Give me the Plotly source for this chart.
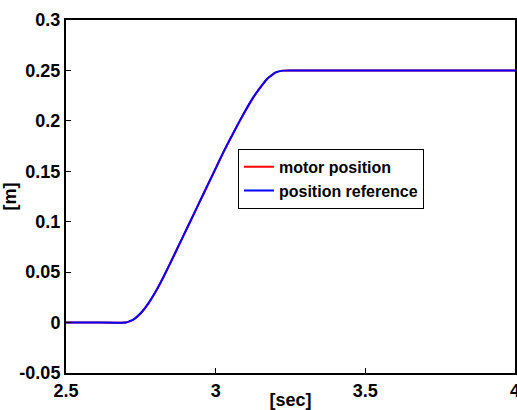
import plotly.graph_objects as go

t = [2.5, 2.6, 2.7, 2.725, 2.75, 2.775, 2.8, 2.825, 2.85, 2.875, 2.9, 2.925, 2.95, 2.975,
     3.0, 3.025, 3.05, 3.075, 3.1, 3.125, 3.15, 3.175, 3.2, 3.225, 3.25, 3.5, 4.0]
pos_ref = [0, 0, 0, 0.003, 0.0095, 0.019, 0.031, 0.045, 0.060, 0.0755, 0.091, 0.1065, 0.122, 0.1375,
           0.153, 0.1685, 0.183, 0.197, 0.2105, 0.223, 0.2335, 0.2425, 0.248, 0.2498, 0.25, 0.25, 0.25]
motor_pos = [0, 0, 0, 0.0028, 0.0092, 0.0187, 0.0307, 0.0447, 0.0597, 0.0752, 0.0907, 0.1062, 0.1217, 0.1372,
             0.1527, 0.1682, 0.1828, 0.1968, 0.2103, 0.2228, 0.2334, 0.2424, 0.2479, 0.2498, 0.25, 0.25, 0.25]

x_ticks = [2.5, 3, 3.5, 4]
x_labels = ["2.5", "3", "3.5", "4"]
y_ticks = [-0.05, 0, 0.05, 0.1, 0.15, 0.2, 0.25, 0.3]
y_labels = ["-0.05", "0", "0.05", "0.1", "0.15", "0.2", "0.25", "0.3"]

fig = go.Figure()
fig.add_trace(go.Scatter(x=t, y=motor_pos, mode="lines", name="motor position",
                         line=dict(color="#ff0000", width=2, shape="spline", smoothing=0.3)))
fig.add_trace(go.Scatter(x=t, y=pos_ref, mode="lines", name="position reference",
                         line=dict(color="#0000ff", width=2, shape="spline", smoothing=0.3)))

fam = "Liberation Sans"
bold18 = dict(family=fam, size=18, color="black", weight=700)

fig.update_layout(
    width=517, height=410,
    margin=dict(l=66, r=2, t=20, b=37, autoexpand=False),
    paper_bgcolor="white", plot_bgcolor="white",
    font=dict(family=fam, size=16, color="black", weight=700),
    showlegend=True,
    legend=dict(x=0.383, y=0.635, xanchor="left", yanchor="top",
                bordercolor="black", borderwidth=1, bgcolor="white",
                font=dict(family=fam, size=16, color="black", weight=700),
                tracegroupgap=0, itemwidth=30),
    xaxis=dict(range=[2.5, 4], tickvals=x_ticks, ticktext=x_labels,
               showgrid=False, zeroline=False, showline=True, linecolor="black", linewidth=2,
               mirror=True, ticks="inside", ticklen=5, tickcolor="black", tickwidth=1,
               ticklabeloverflow="allow",
               tickfont=bold18,
               title=dict(text="[sec]", font=bold18, standoff=0)),
    yaxis=dict(range=[-0.05, 0.3], tickvals=y_ticks, ticktext=y_labels,
               showgrid=False, zeroline=False, showline=True, linecolor="black", linewidth=2,
               mirror=True, ticks="inside", ticklen=5, tickcolor="black", tickwidth=1,
               ticklabeloverflow="allow",
               tickfont=bold18,
               title=dict(text="[m]", font=bold18, standoff=0)),
)

fig.write_html("out.html")
